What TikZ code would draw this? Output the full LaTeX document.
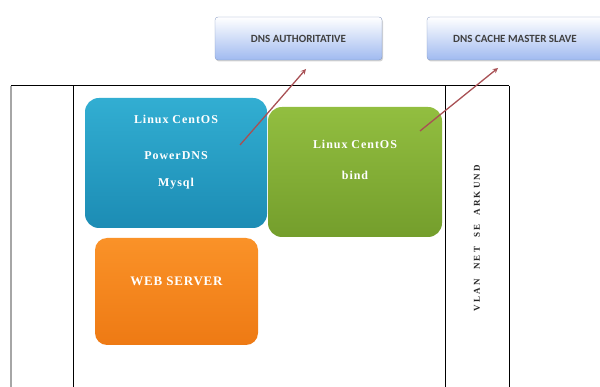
\documentclass[tikz,border=0pt]{standalone}
\usepackage{fontspec}
\setmainfont{Liberation Serif}
\newfontfamily\boxfont{Carlito}
\usepackage{tikz}
\usetikzlibrary{shapes,arrows,positioning,calc,shadows}

\definecolor{tealtop}{RGB}{50,174,210}
\definecolor{tealbot}{RGB}{28,140,180}
\definecolor{leaftop}{RGB}{146,190,64}
\definecolor{leafbot}{RGB}{116,158,44}
\definecolor{fruittop}{RGB}{250,146,40}
\definecolor{fruitbot}{RGB}{238,122,20}
\definecolor{skybot}{RGB}{160,186,240}
\definecolor{linkred}{RGB}{168,80,84}
\newcommand{\wordgap}{\hspace*{9pt}}

\begin{document}
\begin{tikzpicture}[x=1pt,y=-1pt,
    server/.style={rectangle, rounded corners=14pt},
    servertext/.style={text=white, font=\bfseries\fontsize{12}{14}\selectfont\addfontfeature{LetterSpace=8}, align=center, text centered},
    dnsbox/.style={rectangle, rounded corners=3pt, top color=white, bottom color=skybot, draw=skybot!80!black, line width=0.3pt, drop shadow={opacity=0.35, shadow xshift=1pt, shadow yshift=-1.5pt}, font=\boxfont\bfseries\fontsize{11}{12}\selectfont, text=black!75},
    link/.style={->, >=stealth, draw=linkred, line width=1.3pt}]
    \useasboundingbox (0,0) rectangle (600,387);
    % frame
    \draw [gray!70, line width=1.5pt] (11,86) -- (11,387);
    \draw [black, line width=1pt] (11,86) -- (509,86);
    \draw [black, line width=1pt] (73,86) -- (73,387);
    \draw [black, line width=1pt] (445,86) -- (445,387);
    \draw [black, line width=1pt] (509,86) -- (509,387);
    % dns boxes
    \node (auth) [dnsbox, minimum width=167pt, minimum height=43pt] at (298.5,38.5) {DNS AUTHORITATIVE};
    \node (cache) [dnsbox, minimum width=176pt, minimum height=43pt] at (515,38.5) {DNS CACHE MASTER SLAVE};
    % servers
    \node (power) [server, top color=tealtop, bottom color=tealbot, minimum width=182pt, minimum height=130pt] at (176,163) {};
    \node (bind) [server, top color=leaftop, bottom color=leafbot, minimum width=174pt, minimum height=130pt] at (355,172) {};
    \node (web) [server, rounded corners=12pt, top color=fruittop, bottom color=fruitbot, minimum width=163pt, minimum height=107pt] at (176.5,291.5) {};
    \node (powertext) [servertext, below=14pt of power.north] {Linux CentOS\\[22pt]PowerDNS\\[13pt]Mysql};
    \node (bindtext) [servertext, below=30pt of bind.north] {Linux CentOS\\[17pt]bind};
    \node (webtext) [servertext, font=\bfseries\fontsize{13}{15}\selectfont\addfontfeature{LetterSpace=6}, below=36pt of web.north] {WEB SERVER};
    \node (vlan) [rotate=90, font=\bfseries\fontsize{9}{10}\selectfont\addfontfeature{LetterSpace=25}, text=black!85] at (477,238) {VLAN\wordgap NET\wordgap SE\wordgap ARKUND};
    % links
    \coordinate (powerout) at (240,145);
    \coordinate (authin) at (306,69);
    \coordinate (bindout) at (420,131);
    \coordinate (cachein) at (498,68);
    \draw [link] (powerout) -- (authin);
    \draw [link] (bindout) -- (cachein);
\end{tikzpicture}
\end{document}
